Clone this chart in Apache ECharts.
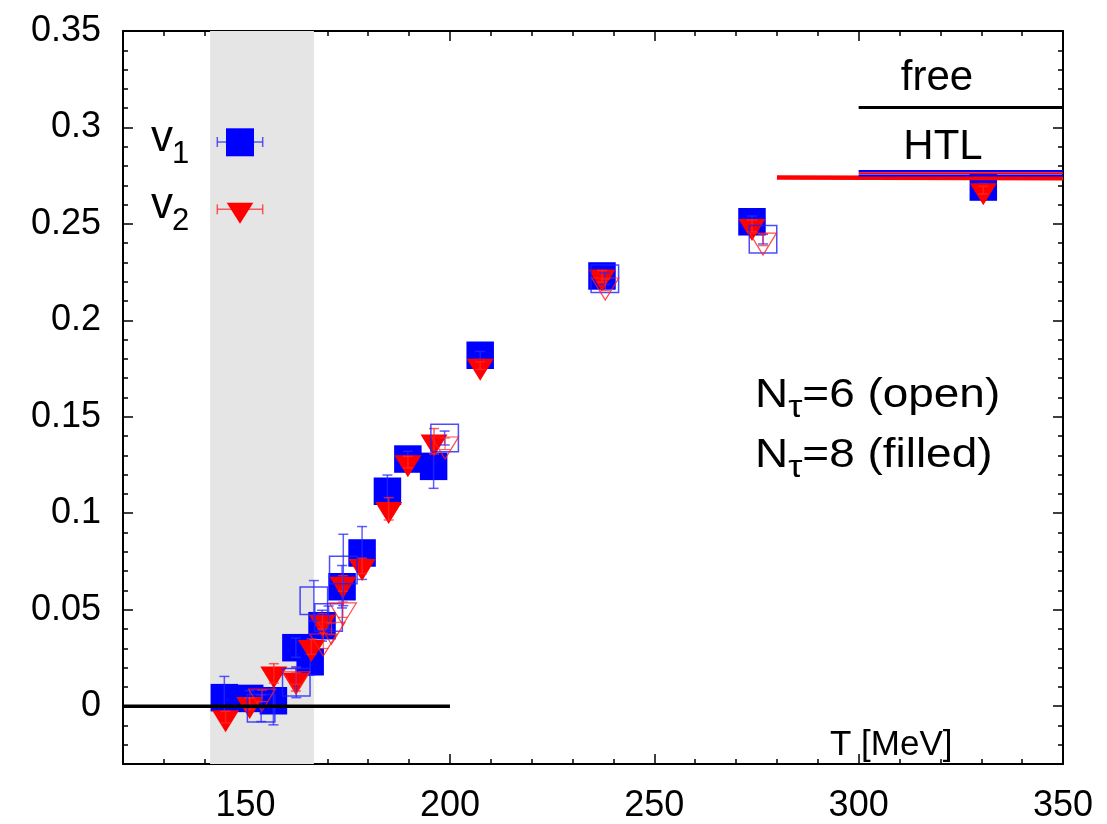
<!DOCTYPE html>
<html><head><meta charset="utf-8">
<script src="https://cdn.jsdelivr.net/npm/echarts@6/dist/echarts.min.js"></script>
<style>html,body{margin:0;padding:0;background:#fff}#c{width:1107px;height:824px}</style>
</head><body><div id="c"></div>
<script>
// ---- data: N_tau = 8 (filled symbols) ----
const v1_n8_T   = [144.8,151.0,156.8,162.3,165.8,168.7,173.6,178.5,184.7,189.7,196.0,207.4,237.2,273.9,330.5];
const v1_n8_val = [0.0044,0.0040,0.0028,0.0303,0.0230,0.0417,0.0619,0.0794,0.1114,0.1281,0.1243,0.1819,0.2230,0.2511,0.2691];
const v1_n8_err = [0.011,0.004,0.0125,0.005,0.007,0.008,0.011,0.0137,0.0084,0.004,0.0114,0.002,0.003,0.003,0.002];

const v2_n8_T   = [145.1,151.0,156.9,162.3,166.1,168.8,173.8,178.5,185.0,189.7,196.1,207.4,237.2,273.9,330.5];
const v2_n8_val = [-0.0057,0.0012,0.0170,0.0138,0.0308,0.0439,0.0636,0.0727,0.1023,0.1265,0.1373,0.1765,0.2228,0.2490,0.2675];
const v2_n8_err = [0.003,0.003,0.005,0.006,0.004,0.004,0.004,0.004,0.0058,0.003,0.0066,0.002,0.003,0.003,0.002];

// ---- data: N_tau = 6 (open symbols) ----
const v1_n6_T   = [153.8,162.4,166.7,170.3,173.9,198.7,237.9,276.6];
const v1_n6_val = [-0.0011,0.0124,0.0546,0.0459,0.0706,0.1390,0.2216,0.2421];
const v1_n6_err = [0.0069,0.008,0.0105,0.006,0.0185,0.0036,0.003,0.0025];

const v2_n6_T   = [154.0,162.4,169.0,171.0,173.8,198.8,238.0,276.6];
const v2_n6_val = [0.0053,0.0143,0.0339,0.0400,0.0500,0.1360,0.2184,0.2417];
const v2_n6_err = [0.003,0.003,0.004,0.003,0.004,0.003,0.003,0.003];

// ---- reference lines ----
const zeroT = [120, 200], zeroVal = [0, 0];
const freeT = [300, 350], freeVal = [0.3104, 0.3104];
const htlRedT = [280, 350], htlRedVal = [0.2740, 0.2736];
const htlBlue1T = [300, 350], htlBlue1Val = [0.2774, 0.2774];
const htlRed2T = [300, 350], htlRed2Val = [0.2762, 0.2762];
const htlBlue2T = [300, 350], htlBlue2Val = [0.2751, 0.2751];
const tcBand = [141.3, 166.7];

// ---- ticks ----
const xMajor = [150, 200, 250, 300, 350];
const yMajor = [0, 0.05, 0.1, 0.15, 0.2, 0.25, 0.3, 0.35];

const FONT = 'Liberation Sans';
const chart = echarts.init(document.getElementById('c'), null, {renderer: 'canvas'});
const mctx = document.createElement('canvas').getContext('2d');
function tw(s, size) { mctx.font = size + 'px "' + FONT + '"'; return mctx.measureText(s).width; }

function zip(a, b, c) { return a.map((v, i) => c ? [v, b[i], c[i]] : [v, b[i]]); }

function errSeries(T, val, err, color, width, z) {
  return {
    type: 'custom', silent: true, z: z, clip: false,
    encode: {x: 0, y: 1},
    data: zip(T, val, err),
    renderItem: function (params, api) {
      const x = api.value(0), y = api.value(1), e = api.value(2);
      const t = api.coord([x, y + e]), b = api.coord([x, y - e]);
      const hw = 5;
      const st = {stroke: color, lineWidth: width};
      return {type: 'group', children: [
        {type: 'line', shape: {x1: t[0], y1: t[1], x2: b[0], y2: b[1]}, style: st},
        {type: 'line', shape: {x1: t[0] - hw, y1: t[1], x2: t[0] + hw, y2: t[1]}, style: st},
        {type: 'line', shape: {x1: b[0] - hw, y1: b[1], x2: b[0] + hw, y2: b[1]}, style: st}
      ]};
    }
  };
}

function refLine(T, V, color, width, z) {
  return {type: 'line', data: zip(T, V), showSymbol: false, symbol: 'none', silent: true, z: z,
    lineStyle: {color: color, width: width}, animation: false};
}

const SQ = 27.5, TRI = [27, 22], TRI_OFF = [0, 4.2];

function xAx(pos, major) {
  return {
    type: 'value', min: 120, max: 350, position: pos,
    interval: major ? undefined : 10,
    axisLine: {show: major, onZero: false, lineStyle: {color: '#000', width: 2}},
    axisTick: major ? {show: true, inside: true, length: 10, customValues: xMajor, lineStyle: {color: '#000', width: 1.5}}
                    : {show: true, inside: true, length: 5, lineStyle: {color: '#000', width: 1.5}},
    axisLabel: (major && pos === 'bottom') ? {show: true, customValues: xMajor, fontFamily: FONT, fontSize: 36, color: '#000', margin: 24}
                    : {show: false},
    splitLine: {show: false}
  };
}
function yAx(pos, major) {
  return {
    type: 'value', min: -0.03, max: 0.35, position: pos,
    interval: major ? undefined : 0.01,
    axisLine: {show: major, onZero: false, lineStyle: {color: '#000', width: 2}},
    axisTick: major ? {show: true, inside: true, length: 10, customValues: yMajor, lineStyle: {color: '#000', width: 1.5}}
                    : {show: true, inside: true, length: 5, lineStyle: {color: '#000', width: 1.5}},
    axisLabel: (major && pos === 'left') ? {show: true, customValues: yMajor, fontFamily: FONT, fontSize: 36, color: '#000', margin: 22,
                    formatter: v => String(+v.toFixed(2))}
                    : {show: false},
    splitLine: {show: false}
  };
}

function txt(str, x, baseY, size, align, sx) {
  return {type: 'text', x: x, y: baseY - 0.33 * size, z: 100, scaleX: sx || 1,
    style: {text: str, fontFamily: FONT, fontSize: size, fill: '#000', align: align || 'left', verticalAlign: 'middle'}};
}
// main text with a subscript: [main, sub, rest]
function subTxt(main, sub, rest, x, baseY, size, subSize, subDrop, sx) {
  sx = sx || 1;
  const out = [txt(main, x, baseY, size, 'left', sx)];
  let cx = x + tw(main, size) * sx;
  out.push(txt(sub, cx, baseY + subDrop, subSize, 'left', sx));
  cx += tw(sub, subSize) * sx;
  if (rest) out.push(txt(rest, cx, baseY, size, 'left', sx));
  return out;
}

const option = {
  animation: false,
  backgroundColor: '#fff',
  grid: {left: 123, right: 44, top: 31, bottom: 59, containLabel: false},
  xAxis: [xAx('bottom', true), xAx('bottom', false), xAx('top', true), xAx('top', false)],
  yAxis: [yAx('left', true), yAx('left', false), yAx('right', true), yAx('right', false)],
  series: [
    Object.assign(refLine(zeroT, zeroVal, '#000', 3.5, 20), {
      markArea: {silent: true, itemStyle: {color: '#e5e5e5'}, data: [[{xAxis: tcBand[0]}, {xAxis: tcBand[1]}]]}
    }),
    {type: 'scatter', data: zip(v1_n8_T, v1_n8_val), symbol: 'rect', symbolSize: SQ, z: 3, silent: true,
      itemStyle: {color: '#0000ff', opacity: 1}},
    errSeries(v1_n8_T, v1_n8_val, v1_n8_err, 'rgba(40,40,255,0.75)', 1.5, 4),
    {type: 'scatter', data: zip(v2_n8_T, v2_n8_val), symbol: 'triangle', symbolRotate: 180, symbolSize: TRI, symbolOffset: TRI_OFF,
      z: 5, silent: true, itemStyle: {color: '#ff0000', opacity: 1}},
    errSeries(v2_n8_T, v2_n8_val, v2_n8_err, 'rgba(255,40,40,0.75)', 1.5, 6),
    {type: 'scatter', data: zip(v1_n6_T, v1_n6_val), symbol: 'rect', symbolSize: SQ, z: 7, silent: true,
      itemStyle: {color: 'rgba(0,0,0,0)', borderColor: 'rgba(30,30,255,0.8)', borderWidth: 1.5, opacity: 1}},
    errSeries(v1_n6_T, v1_n6_val, v1_n6_err, 'rgba(40,40,255,0.75)', 1.5, 8),
    {type: 'scatter', data: zip(v2_n6_T, v2_n6_val), symbol: 'triangle', symbolRotate: 180, symbolSize: TRI, symbolOffset: TRI_OFF,
      z: 9, silent: true, itemStyle: {color: 'rgba(0,0,0,0)', borderColor: 'rgba(255,30,30,0.8)', borderWidth: 1.2, opacity: 1}},
    errSeries(v2_n6_T, v2_n6_val, v2_n6_err, 'rgba(255,40,40,0.75)', 1.2, 10),
    refLine(freeT, freeVal, '#000', 3, 20),
    refLine(htlRedT, htlRedVal, '#ff0000', 4.5, 20),
    refLine(htlBlue1T, htlBlue1Val, '#0000ff', 2.2, 21),
    refLine(htlRed2T, htlRed2Val, '#ff0000', 2, 21),
    refLine(htlBlue2T, htlBlue2Val, '#0000ff', 2, 21)
  ],
  graphic: [
    // legend
    txt('v', 151, 153, 44), txt('1', 172, 165, 31),
    txt('v', 151, 220, 44), txt('2', 172, 232, 31),
    {type: 'line', z: 100, shape: {x1: 217.3, y1: 142, x2: 262.7, y2: 142}, style: {stroke: 'rgba(40,40,255,0.75)', lineWidth: 1.5}},
    {type: 'line', z: 100, shape: {x1: 217.3, y1: 137, x2: 217.3, y2: 147}, style: {stroke: 'rgba(40,40,255,0.75)', lineWidth: 1.5}},
    {type: 'line', z: 100, shape: {x1: 262.7, y1: 137, x2: 262.7, y2: 147}, style: {stroke: 'rgba(40,40,255,0.75)', lineWidth: 1.5}},
    {type: 'rect', z: 101, shape: {x: 226, y: 128.3, width: 28, height: 28}, style: {fill: '#0000ff'}},
    {type: 'line', z: 100, shape: {x1: 217.3, y1: 209.3, x2: 262.7, y2: 209.3}, style: {stroke: 'rgba(255,40,40,0.75)', lineWidth: 1.5}},
    {type: 'line', z: 100, shape: {x1: 217.3, y1: 204.3, x2: 217.3, y2: 214.3}, style: {stroke: 'rgba(255,40,40,0.75)', lineWidth: 1.5}},
    {type: 'line', z: 100, shape: {x1: 262.7, y1: 204.3, x2: 262.7, y2: 214.3}, style: {stroke: 'rgba(255,40,40,0.75)', lineWidth: 1.5}},
    {type: 'polygon', z: 101, shape: {points: [[226.7, 202.7], [253.3, 202.7], [240, 223.7]]}, style: {fill: '#ff0000'}},
    // annotations
    txt('free', 937, 92, 42, 'center'),
    txt('HTL', 943, 161, 42, 'center'),
    ...subTxt('N', 'τ', '=6 (open)', 755, 409, 41, 32, 10, 1.12),
    ...subTxt('N', 'τ', '=8 (filled)', 755, 469, 41, 32, 10, 1.12),
    txt('T [MeV]', 830, 757, 35)
  ]
};
chart.setOption(option);
</script>
</body></html>
